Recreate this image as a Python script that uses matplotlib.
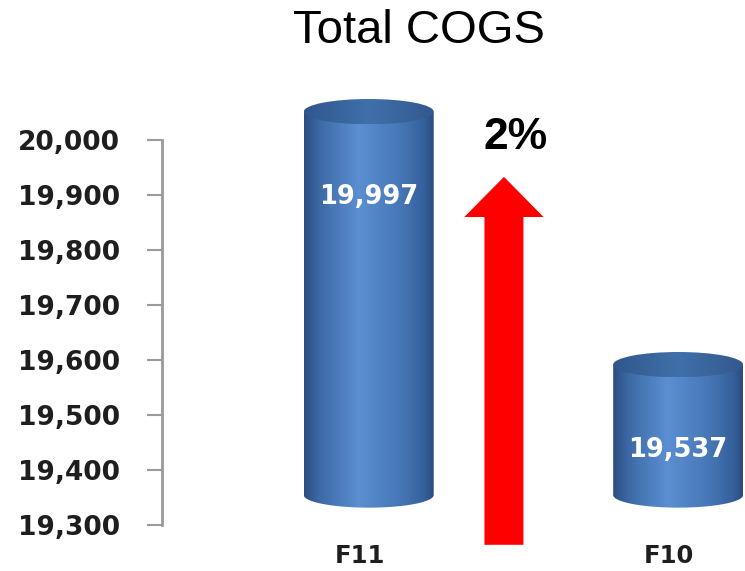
import numpy as np
import matplotlib
matplotlib.use("Agg")
import matplotlib.pyplot as plt
import matplotlib.transforms as mtransforms
from matplotlib.path import Path
from matplotlib.patches import PathPatch, Ellipse, Polygon
from matplotlib.colors import LinearSegmentedColormap

# ---- data ----
categories = ["F11", "F10"]
values = [19997, 19537]
value_labels = ["19,997", "19,537"]
yticks = [19300, 19400, 19500, 19600, 19700, 19800, 19900, 20000]
ytick_labels = ["19,300", "19,400", "19,500", "19,600", "19,700", "19,800", "19,900", "20,000"]
title = "Total COGS"
change_label = "2%"

W, H = 745, 571
fig = plt.figure(figsize=(W / 100, H / 100), dpi=100)

def fx(px):
    return px / W

def fy(py):
    return 1 - py / H

ymin, ymax = 19300, 20000
xl, xr = -0.668, 1.216

# axis with ticks
ax = fig.add_axes([fx(162), fy(525), fx(745) - fx(162), fy(140) - fy(525)])
ax.set_xlim(xl, xr)
ax.set_ylim(ymin, ymax)
for s in ["top", "right", "bottom"]:
    ax.spines[s].set_visible(False)
ax.spines["left"].set_color("#9a9a9a")
ax.spines["left"].set_linewidth(2)
ax.set_yticks(yticks)
ax.set_yticklabels(ytick_labels, fontsize=19, fontweight="bold",
                   color="#1e1e1e", family="DejaVu Sans")
ax.tick_params(axis="y", direction="out", length=10.5, width=1.5,
               color="#9a9a9a", pad=20)
ax.set_xticks(range(len(categories)))
ax.set_xticklabels(categories, fontsize=17.5, fontweight="bold",
                   color="#1e1e1e", family="DejaVu Sans")
ax.tick_params(axis="x", length=0, pad=14)
shift = mtransforms.ScaledTranslation(-9 / 100, 0, fig.dpi_scale_trans)
for lbl in ax.get_xticklabels():
    lbl.set_transform(lbl.get_transform() + shift)
ax.patch.set_alpha(0)

# bars axis (3D floor offset): 19300 at y=495, 0.55 px per unit
b_lo, b_hi = 19200, 20100
bx = fig.add_axes([fx(162), fy(550), fx(745) - fx(162), fy(55) - fy(550)])
bx.axis("off")
bx.patch.set_alpha(0)

body_cmap = LinearSegmentedColormap.from_list(
    "body", [(0, "#2a4e80"), (0.12, "#3d6aa6"), (0.42, "#5b8fd2"),
             (0.75, "#4676b5"), (0.93, "#34609a"), (1, "#2a4c7c")])
top_cmap = LinearSegmentedColormap.from_list(
    "top", [(0, "#30578c"), (0.5, "#4070aa"), (1, "#33598e")])

bw = 0.42
eh = 23  # half-height of ellipse in data units
t = np.linspace(np.pi, 2 * np.pi, 60)
grad = np.linspace(0, 1, 256).reshape(1, -1)

for i, (v, lab) in enumerate(zip(values, value_labels)):
    x0, x1 = i - bw / 2, i + bw / 2
    ex = i + (bw / 2) * np.cos(t)
    ey = ymin + eh * np.sin(t)
    verts = [(x0, v)] + list(zip(ex, ey)) + [(x1, v), (x0, v)]
    path = Path(verts, closed=True)
    patch = PathPatch(path, facecolor="none", edgecolor="none")
    bx.add_patch(patch)
    im = bx.imshow(grad, cmap=body_cmap, aspect="auto",
                   extent=[x0, x1, ymin - eh, v + eh], zorder=2)
    im.set_clip_path(patch)
    top = Ellipse((i, v), bw, 2 * eh, facecolor="none", edgecolor="none", zorder=3)
    bx.add_patch(top)
    im2 = bx.imshow(grad, cmap=top_cmap, aspect="auto",
                    extent=[x0, x1, v - eh, v + eh], zorder=3)
    im2.set_clip_path(top)
    bx.text(i, v - 155, lab, ha="center", va="center", color="white",
            fontsize=18.5, fontweight="bold", family="DejaVu Sans", zorder=5)

bx.set_xlim(xl, xr)
bx.set_ylim(b_lo, b_hi)

# red arrow between the bars
axc = 0.437
shaft_hw = 0.063
head_hw = 0.128
y_bot, y_base, y_tip = 19264, 19860, 19933
arrow = Polygon([(axc - shaft_hw, y_bot), (axc - shaft_hw, y_base),
                 (axc - head_hw, y_base), (axc, y_tip),
                 (axc + head_hw, y_base), (axc + shaft_hw, y_base),
                 (axc + shaft_hw, y_bot)], closed=True,
                facecolor="#ff0000", edgecolor="none", clip_on=False, zorder=4)
ax.add_patch(arrow)
ax.text(0.474, 20005, change_label, ha="center", va="center",
        fontsize=32, fontweight="bold", family="Liberation Sans", color="black")

fig.text(fx(419), fy(31), title, ha="center", va="center",
         fontsize=34, family="Liberation Sans", color="black")

fig.savefig("out.png", dpi=100)
